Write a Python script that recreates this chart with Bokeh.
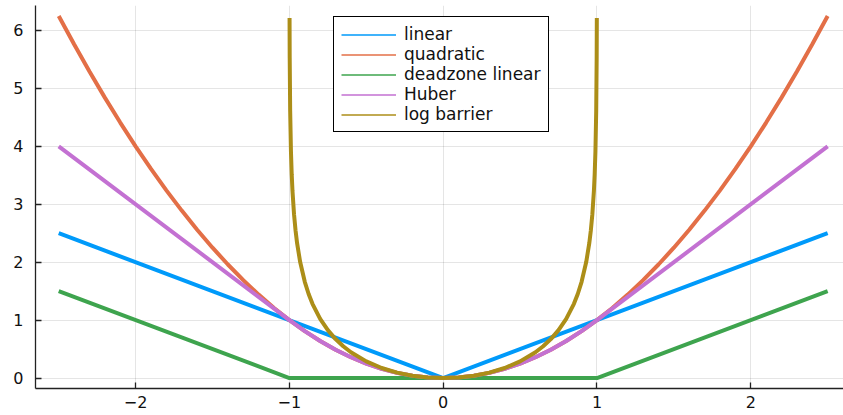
from bokeh.plotting import figure
from bokeh.models import Range1d, FixedTicker, Legend, LegendItem
from bokeh.embed import file_html
from bokeh.resources import INLINE

# ---- data ----
series_names = ["linear", "quadratic", "deadzone linear", "Huber", "log barrier"]
series_colors = ["#009AFA", "#E36F47", "#3EA44E", "#C371D2", "#AC8E18"]

linear_x = [-2.5, 0.0, 2.5]
linear_y = [2.5, 0.0, 2.5]

quad_x = [-2.5, -2.4, -2.3, -2.2, -2.1, -2.0, -1.9, -1.8, -1.7, -1.6, -1.5, -1.4, -1.3,
          -1.2, -1.1, -1.0, -0.9, -0.8, -0.7, -0.6, -0.5, -0.4, -0.3, -0.2, -0.1, 0.0,
          0.1, 0.2, 0.3, 0.4, 0.5, 0.6, 0.7, 0.8, 0.9, 1.0, 1.1, 1.2, 1.3, 1.4, 1.5,
          1.6, 1.7, 1.8, 1.9, 2.0, 2.1, 2.2, 2.3, 2.4, 2.5]
quad_y = [6.25, 5.76, 5.29, 4.84, 4.41, 4.0, 3.61, 3.24, 2.89, 2.56, 2.25, 1.96, 1.69,
          1.44, 1.21, 1.0, 0.81, 0.64, 0.49, 0.36, 0.25, 0.16, 0.09, 0.04, 0.01, 0.0,
          0.01, 0.04, 0.09, 0.16, 0.25, 0.36, 0.49, 0.64, 0.81, 1.0, 1.21, 1.44, 1.69,
          1.96, 2.25, 2.56, 2.89, 3.24, 3.61, 4.0, 4.41, 4.84, 5.29, 5.76, 6.25]

dead_x = [-2.5, -1.0, 1.0, 2.5]
dead_y = [1.5, 0.0, 0.0, 1.5]

huber_x = [-2.5, -1.0, -0.9, -0.8, -0.7, -0.6, -0.5, -0.4, -0.3, -0.2, -0.1, 0.0,
           0.1, 0.2, 0.3, 0.4, 0.5, 0.6, 0.7, 0.8, 0.9, 1.0, 2.5]
huber_y = [4.0, 1.0, 0.81, 0.64, 0.49, 0.36, 0.25, 0.16, 0.09, 0.04, 0.01, 0.0,
           0.01, 0.04, 0.09, 0.16, 0.25, 0.36, 0.49, 0.64, 0.81, 1.0, 4.0]

log_x = [-0.999, -0.998, -0.995, -0.99, -0.985, -0.98, -0.97, -0.96, -0.95, -0.93, -0.9,
         -0.875, -0.85, -0.8, -0.75, -0.7, -0.65, -0.6, -0.5, -0.4, -0.3, -0.2, -0.1, 0.0,
         0.1, 0.2, 0.3, 0.4, 0.5, 0.6, 0.65, 0.7, 0.75, 0.8, 0.85, 0.875, 0.9, 0.93,
         0.95, 0.96, 0.97, 0.98, 0.985, 0.99, 0.995, 0.998, 0.999]
log_y = [6.215, 5.523, 4.608, 3.917, 3.514, 3.229, 2.829, 2.546, 2.328, 2.002, 1.661,
         1.451, 1.282, 1.022, 0.827, 0.673, 0.549, 0.446, 0.288, 0.174, 0.094, 0.041, 0.010, 0.0,
         0.010, 0.041, 0.094, 0.174, 0.288, 0.446, 0.549, 0.673, 0.827, 1.022, 1.282, 1.451,
         1.661, 2.002, 2.328, 2.546, 2.829, 3.229, 3.514, 3.917, 4.608, 5.523, 6.215]

x_ticks = [-2, -1, 0, 1, 2]
x_tick_labels = ["\u22122", "\u22121", "0", "1", "2"]
y_ticks = [0, 1, 2, 3, 4, 5, 6]

# ---- figure ----
p = figure(width=843, height=415, output_backend="svg", toolbar_location=None,
           x_range=Range1d(-2.651, 2.603), y_range=Range1d(-0.18, 6.43),
           min_border_left=35, min_border_right=0, min_border_top=5, min_border_bottom=27)
p.outline_line_color = None
p.background_fill_color = "white"
p.border_fill_color = "white"

for ax, ticks in ((p.xaxis, x_ticks), (p.yaxis, y_ticks)):
    ax.ticker = FixedTicker(ticks=ticks)
    ax.major_tick_in = 6
    ax.major_tick_out = 0
    ax.minor_tick_line_color = None
    ax.axis_line_color = "#222222"
    ax.axis_line_width = 1.3
    ax.major_tick_line_color = "#222222"
    ax.major_tick_line_width = 1.3
    ax.major_label_text_font = "DejaVu Sans"
    ax.major_label_text_font_size = "16px"
    ax.major_label_text_color = "#111111"

p.xaxis.major_label_overrides = {t: s for t, s in zip(x_ticks, x_tick_labels)}
p.xaxis.major_label_standoff = 7
p.yaxis.major_label_standoff = 12

p.xgrid.ticker = FixedTicker(ticks=x_ticks)
p.ygrid.ticker = FixedTicker(ticks=y_ticks)
for g in (p.xgrid, p.ygrid):
    g.grid_line_color = "black"
    g.grid_line_alpha = 0.1
    g.grid_line_width = 1

data = [(linear_x, linear_y), (quad_x, quad_y), (dead_x, dead_y),
        (huber_x, huber_y), (log_x, log_y)]
for (xs, ys), c in zip(data, series_colors):
    p.line(xs, ys, line_color=c, line_width=4)

# thin legend-only renderers (single point: nothing drawn in the plot)
items = []
for name, c in zip(series_names, series_colors):
    r = p.line([0.0], [0.0], line_color=c, line_width=1.5)
    items.append(LegendItem(label=name, renderers=[r]))

legend = Legend(items=items, location=(298, 256))
legend.label_text_font = "DejaVu Sans"
legend.label_text_font_size = "17px"
legend.label_text_color = "#111111"
legend.label_height = 19
legend.glyph_height = 19
legend.glyph_width = 55
legend.label_standoff = 8
legend.spacing = -1
legend.padding = 7
legend.margin = 0
legend.border_line_color = "black"
legend.border_line_alpha = 1.0
legend.border_line_width = 1.2
legend.background_fill_color = "white"
legend.background_fill_alpha = 1
p.add_layout(legend, "center")

open("out.html", "w").write(file_html(p, INLINE))
